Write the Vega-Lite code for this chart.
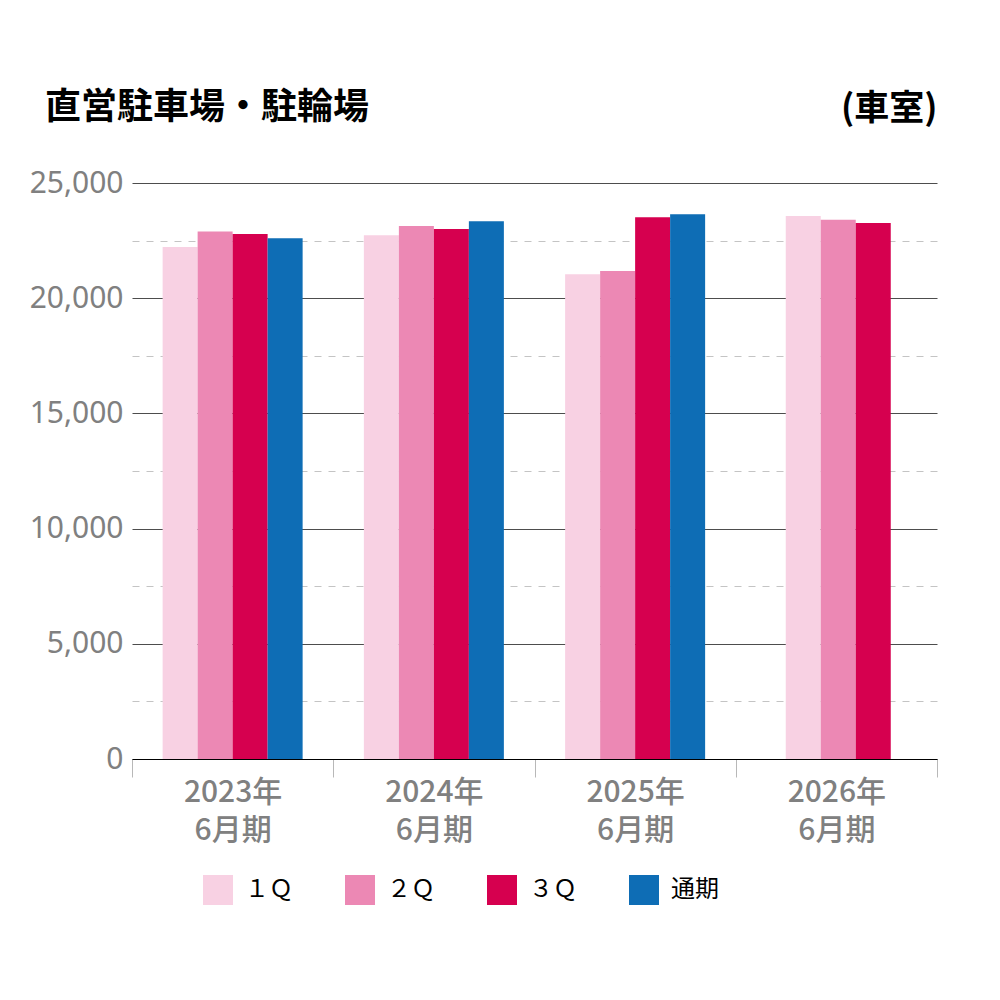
{
  "$schema": "https://vega.github.io/schema/vega-lite/v6.json",
  "width": 805,
  "height": 576,
  "autosize": {"type": "none"},
  "padding": {"left": 132, "top": 183, "right": 63, "bottom": 241},
  "background": "white",
  "title": {
    "text": "直営駐車場・駐輪場",
    "anchor": "start",
    "frame": "group",
    "dx": -87,
    "dy": 129,
    "offset": 57,
    "baseline": "bottom",
    "font": "Noto Sans CJK JP",
    "fontSize": 36,
    "fontWeight": "bold",
    "color": "#000000"
  },
  "data": {
    "values": [
      {"period": "2023年6月期", "q": "１Ｑ", "value": 22220},
      {"period": "2023年6月期", "q": "２Ｑ", "value": 22900},
      {"period": "2023年6月期", "q": "３Ｑ", "value": 22790},
      {"period": "2023年6月期", "q": "通期", "value": 22600},
      {"period": "2024年6月期", "q": "１Ｑ", "value": 22730},
      {"period": "2024年6月期", "q": "２Ｑ", "value": 23130},
      {"period": "2024年6月期", "q": "３Ｑ", "value": 23000},
      {"period": "2024年6月期", "q": "通期", "value": 23340},
      {"period": "2025年6月期", "q": "１Ｑ", "value": 21040},
      {"period": "2025年6月期", "q": "２Ｑ", "value": 21180},
      {"period": "2025年6月期", "q": "３Ｑ", "value": 23510},
      {"period": "2025年6月期", "q": "通期", "value": 23640},
      {"period": "2026年6月期", "q": "１Ｑ", "value": 23570},
      {"period": "2026年6月期", "q": "２Ｑ", "value": 23410},
      {"period": "2026年6月期", "q": "３Ｑ", "value": 23260}
    ]
  },
  "encoding": {
    "x": {
      "field": "period",
      "type": "nominal",
      "sort": null,
      "scale": {
        "domain": ["2023年6月期", "2024年6月期", "2025年6月期", "2026年6月期"],
        "paddingInner": 0,
        "paddingOuter": 0
      },
      "axis": {
        "title": null,
        "labelAngle": 0,
        "labelExpr": "[substring(datum.label, 0, 5), substring(datum.label, 5)]",
        "labelFont": "Noto Sans CJK JP",
        "labelFontSize": 30,
        "labelFontWeight": 500,
        "labelColor": "#808080",
        "labelLineHeight": 38,
        "labelBaseline": "top",
        "labelPadding": 0,
        "tickBand": "extent",
        "tickSize": 18,
        "tickColor": "#b8b8b8",
        "tickWidth": 1,
        "domainColor": "#000000",
        "domainWidth": 1.2,
        "grid": false
      }
    },
    "y": {
      "field": "value",
      "type": "quantitative",
      "scale": {"domain": [0, 25000], "nice": false},
      "axis": {
        "title": "(車室)",
        "titleAngle": 0,
        "titleAlign": "right",
        "titleBaseline": "bottom",
        "titleX": 805,
        "titleY": -57,
        "titleFont": "Noto Sans CJK JP",
        "titleFontSize": 35,
        "titleFontWeight": "bold",
        "titleColor": "#000000",
        "values": [0, 2500, 5000, 7500, 10000, 12500, 15000, 17500, 20000, 22500, 25000],
        "labelExpr": "datum.value % 5000 === 0 ? format(datum.value, ',') : ''",
        "labelFont": "Noto Sans",
        "labelFontSize": 30,
        "labelColor": "#808080",
        "labelPadding": 9,
        "domain": false,
        "ticks": false,
        "grid": true,
        "gridColor": {"condition": {"test": "datum.value % 5000 !== 0", "value": "#c4c4c4"}, "value": "#4d4d4d"},
        "gridDash": {"condition": {"test": "datum.value % 5000 !== 0", "value": [7, 7]}, "value": []},
        "gridWidth": 1
      }
    },
    "color": {
      "field": "q",
      "type": "nominal",
      "sort": ["１Ｑ", "２Ｑ", "３Ｑ", "通期"],
      "scale": {
        "domain": ["１Ｑ", "２Ｑ", "３Ｑ", "通期"],
        "range": ["#f8d1e3", "#ec88b4", "#d6004f", "#0e6db5"]
      },
      "legend": {
        "title": null,
        "orient": "none",
        "direction": "horizontal",
        "legendX": 71,
        "legendY": 692,
        "padding": 0,
        "symbolType": "square",
        "symbolSize": 900,
        "symbolStrokeWidth": 0,
        "symbolOpacity": 1,
        "labelFont": "Noto Sans CJK JP",
        "labelFontSize": 24,
        "labelColor": "#000000",
        "labelOffset": 12,
        "columnPadding": 52
      }
    }
  },
  "layer": [
    {
      "transform": [{"filter": "datum.period !== '2026年6月期'"}],
      "mark": {"type": "bar"},
      "encoding": {
        "xOffset": {
          "field": "q",
          "type": "nominal",
          "sort": ["１Ｑ", "２Ｑ", "３Ｑ", "通期"],
          "scale": {"domain": ["１Ｑ", "２Ｑ", "３Ｑ", "通期"], "paddingInner": 0, "paddingOuter": 0.875}
        }
      }
    },
    {
      "transform": [{"filter": "datum.period === '2026年6月期'"}],
      "mark": {"type": "bar"},
      "encoding": {
        "xOffset": {
          "field": "q",
          "type": "nominal",
          "sort": ["１Ｑ", "２Ｑ", "３Ｑ"],
          "scale": {"domain": ["１Ｑ", "２Ｑ", "３Ｑ"], "paddingInner": 0, "paddingOuter": 0, "range": [50, 155]}
        }
      }
    }
  ],
  "resolve": {"scale": {"xOffset": "independent"}},
  "config": {
    "view": {"stroke": null}
  }
}
